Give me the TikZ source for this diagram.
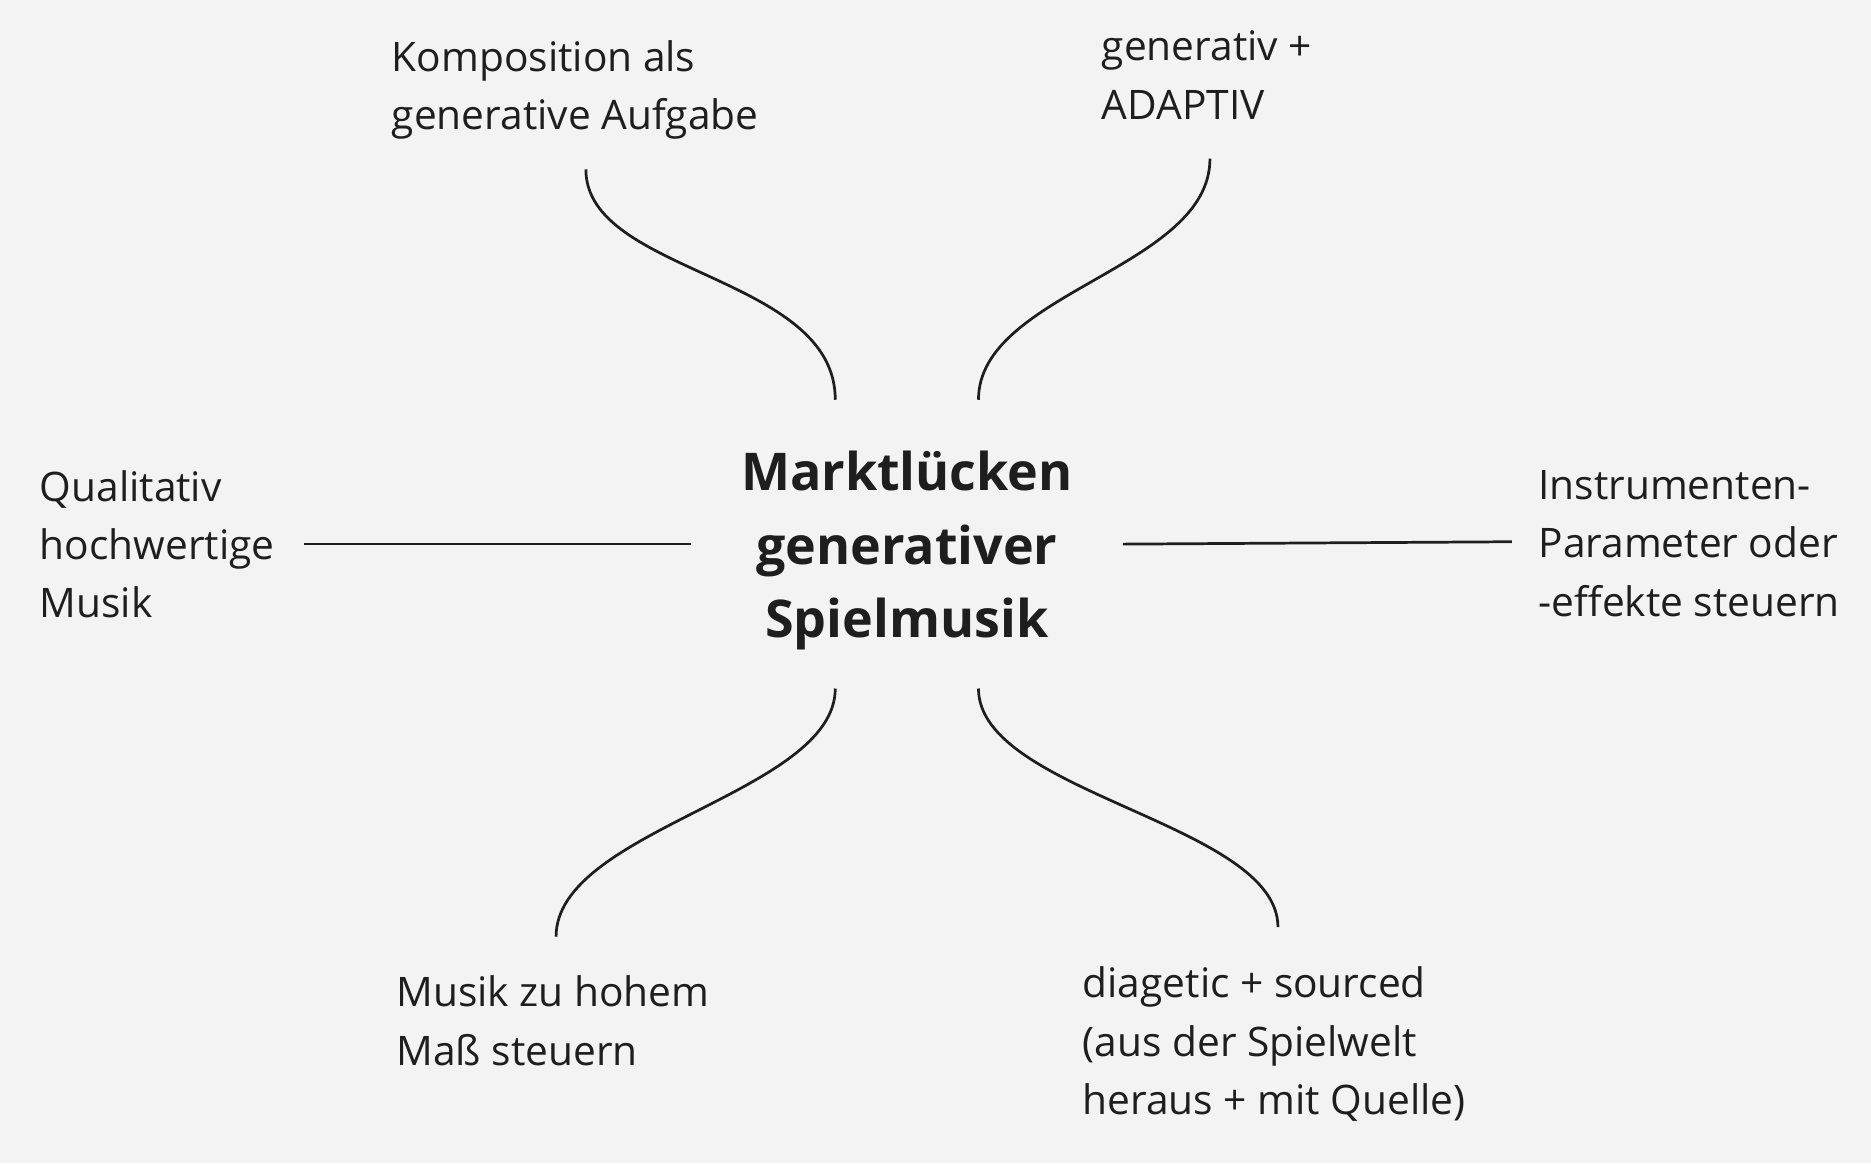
\documentclass[tikz,border=0pt]{standalone}
\usepackage{fontspec}
\setmainfont{Open Sans}
\definecolor{bg}{HTML}{F3F3F3}
\definecolor{ink}{HTML}{1E1E1E}

\begin{document}
\begin{tikzpicture}[x=0.02cm,y=-0.02cm,
    idea/.style={anchor=west,align=left,inner sep=0pt,text=ink,font=\fontsize{19.4}{27.8}\selectfont},
    topic/.style={align=center,inner sep=0pt,text=ink,font=\bfseries\fontsize{24.8}{35.2}\selectfont},
    link/.style={line width=1.3pt,draw=ink}]
    \fill[bg] (0,0) rectangle (1568,975);
    \useasboundingbox (0,0) rectangle (1568,975);
    % centre
    \node[topic] (gap) at (760,461.5) {Marktlücken\\generativer\\Spielmusik};
    % ideas
    \node[idea] (komp) at (328,75.5) {Komposition als\\generative Aufgabe};
    \node[idea] (adapt) at (923,63) {generativ +\\ADAPTIV};
    \node[idea] (quali) at (33,456) {Qualitativ\\hochwertige\\Musik};
    \node[idea] (instr) at (1289,455.5) {Instrumenten-\\Parameter oder\\-effekte steuern};
    \node[idea] (mass) at (332,855.5) {Musik zu hohem\\Maß steuern};
    \node[idea] (dieg) at (907,875) {diagetic + sourced\\(aus der Spielwelt\\heraus + mit Quelle)};
    % line ends
    \coordinate (kompA) at (491,142);   \coordinate (kompB) at (700,335);
    \coordinate (adaptA) at (1014,133); \coordinate (adaptB) at (820,335);
    \coordinate (qualiA) at (255,456);  \coordinate (qualiB) at (579,456);
    \coordinate (instrA) at (1267,454); \coordinate (instrB) at (941,456);
    \coordinate (massA) at (466,785);   \coordinate (massB) at (700,577);
    \coordinate (diegA) at (1071,777);  \coordinate (diegB) at (820,577);
    % connectors
    \draw[link] (kompA) .. controls ([yshift=-88*0.02cm]kompA) and ([yshift=105*0.02cm]kompB) .. (kompB);
    \draw[link] (adaptA) .. controls ([yshift=-92*0.02cm]adaptA) and ([yshift=90*0.02cm]adaptB) .. (adaptB);
    \draw[link] (qualiA) -- (qualiB);
    \draw[link] (instrA) -- (instrB);
    \draw[link] (massA) .. controls ([yshift=90*0.02cm]massA) and ([yshift=-88*0.02cm]massB) .. (massB);
    \draw[link] (diegA) .. controls ([yshift=87*0.02cm]diegA) and ([yshift=-88*0.02cm]diegB) .. (diegB);
\end{tikzpicture}
\end{document}
